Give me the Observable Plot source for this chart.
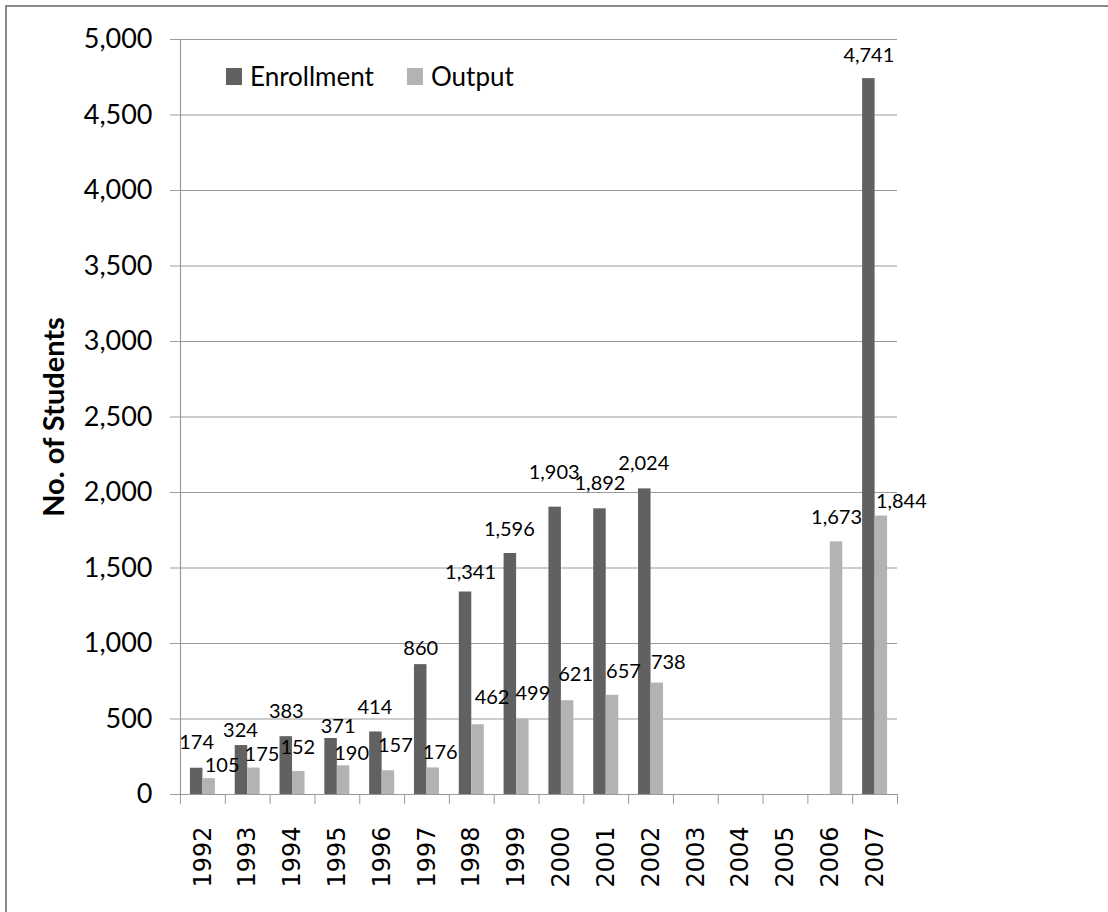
<!DOCTYPE html>
<html>
<head>
<meta charset="utf-8">
<script src="https://cdn.jsdelivr.net/npm/d3@7"></script>
<script src="https://cdn.jsdelivr.net/npm/@observablehq/plot@0.6"></script>
<style>
  html, body { margin: 0; padding: 0; background: #fff; overflow: hidden; }
  #border { position: absolute; left: 5px; top: 5px; width: 1200px; height: 1000px; border: 2px solid #8a8a8a; }
  #chart { position: absolute; left: 0; top: 0; }
  .legend-item { position: absolute; top: 60px; display: flex; align-items: center; font-family: Lato, sans-serif; font-size: 26px; color: #000; }
  .legend-item .sw { width: 16px; height: 17px; margin-right: 8px; }
</style>
</head>
<body>
<div id="border"></div>
<div id="chart"></div>
<div id="legend"></div>
<script>
// Student enrollment and output by year
const years = ["1992","1993","1994","1995","1996","1997","1998","1999","2000","2001","2002","2003","2004","2005","2006","2007"];
const enrollment = [174, 324, 383, 371, 414, 860, 1341, 1596, 1903, 1892, 2024, null, null, null, null, 4741];
const output = [105, 175, 152, 190, 157, 176, 462, 499, 621, 657, 738, null, null, null, 1673, 1844];
const seriesNames = ["Enrollment", "Output"];
const seriesColors = ["#616161", "#b3b3b3"];
const yTicks = [0, 500, 1000, 1500, 2000, 2500, 3000, 3500, 4000, 4500, 5000];

// Per-label nudges [dx, lift above bar top] so crowded value labels stay readable
const enrollLabelNudge = {"1992":[0,19],"1993":[-1,9],"1994":[0,19],"1995":[7,5],"1996":[-1,18],"1997":[0,10],"1998":[5,13],"1999":[-1,18],"2000":[-1,28],"2001":[0,19],"2002":[-1,19],"2007":[0,17]};
const outputLabelNudge = {"1992":[13,7],"1993":[8,7],"1994":[-1,18],"1995":[8,6],"1996":[7,19],"1997":[7,9],"1998":[14,21],"1999":[10,19],"2000":[8,20],"2001":[11,17],"2002":[11,14],"2006":[0,18],"2007":[20,8]};

const rows = [];
years.forEach((yr, i) => {
  if (enrollment[i] != null) rows.push({year: yr, series: seriesNames[0], value: enrollment[i]});
  if (output[i] != null) rows.push({year: yr, series: seriesNames[1], value: output[i]});
});

const W = 1108, H = 912;
const mL = 180, mR = 211, mT = 39, mB = 118;
const bw = (W - mL - mR) / years.length;   // band width per year
const barW = 12.5;                          // width of each bar in a pair
const edge = (bw - 2 * barW) / 2;
const fmt = d3.format(",");
const gray = "#9b9b9b";

const barsFor = (name, color, left, right) =>
  Plot.barY(rows.filter(d => d.series === name), {
    x: "year", y: "value", fill: color, insetLeft: left, insetRight: right
  });

const labelMarks = rows.map(d => {
  const isEnroll = d.series === seriesNames[0];
  const [ndx, lift] = (isEnroll ? enrollLabelNudge : outputLabelNudge)[d.year] || [0, 8];
  return Plot.text([d], {
    x: "year", y: "value", text: r => fmt(r.value),
    dx: (isEnroll ? -barW / 2 : barW / 2) + ndx, dy: -lift,
    lineAnchor: "bottom", textAnchor: "middle",
    fontSize: 20, fontFamily: "Lato", fill: "#000"
  });
});

const chart = Plot.plot({
  width: W, height: H,
  marginLeft: mL, marginRight: mR, marginTop: mT, marginBottom: mB,
  style: {background: "transparent", fontFamily: "Lato", overflow: "visible"},
  x: {type: "band", domain: years, padding: 0, round: false, axis: null},
  y: {domain: [0, 5000], axis: null},
  marks: [
    Plot.gridY(yTicks, {stroke: gray, strokeOpacity: 1, strokeWidth: 1.2}),
    // left axis line
    Plot.ruleX([years[0]], {dx: -bw / 2, stroke: gray, strokeWidth: 1.2}),
    Plot.axisY({ticks: yTicks, tickFormat: fmt, tickSize: 10, tickPadding: 18,
      fontSize: 27, fontFamily: "Lato", fill: "#000", stroke: gray, label: null}),
    // category separators below the baseline
    Plot.axisX({tickSize: 10, tickFormat: () => "", dx: -bw / 2, stroke: gray, label: null}),
    Plot.axisX({ticks: [years[years.length - 1]], tickSize: 10, tickFormat: () => "", dx: bw / 2, stroke: gray, label: null}),
    Plot.axisX({tickSize: 0, tickPadding: 32, tickRotate: -90,
      fontSize: 24, fontFamily: "DejaVu Sans", fill: "#000", label: null}),
    barsFor(seriesNames[0], seriesColors[0], edge, edge + barW),
    barsFor(seriesNames[1], seriesColors[1], edge + barW, edge),
    ...labelMarks,
    Plot.text(["No. of Students"], {frameAnchor: "left", rotate: -90, dx: -117,
      lineAnchor: "bottom", textAnchor: "middle", fontSize: 29, fontWeight: "bold",
      fontFamily: "Lato", fill: "#000"})
  ]
});
document.getElementById("chart").appendChild(chart);

// legend inside the plot area, top left
const legend = document.getElementById("legend");
const legendLeft = [226, 407];
seriesNames.forEach((name, i) => {
  const item = document.createElement("div");
  item.className = "legend-item";
  item.style.left = legendLeft[i] + "px";
  const sw = document.createElement("span");
  sw.className = "sw";
  sw.style.background = seriesColors[i];
  const t = document.createElement("span");
  t.textContent = name;
  item.appendChild(sw);
  item.appendChild(t);
  legend.appendChild(item);
});
</script>
</body>
</html>
